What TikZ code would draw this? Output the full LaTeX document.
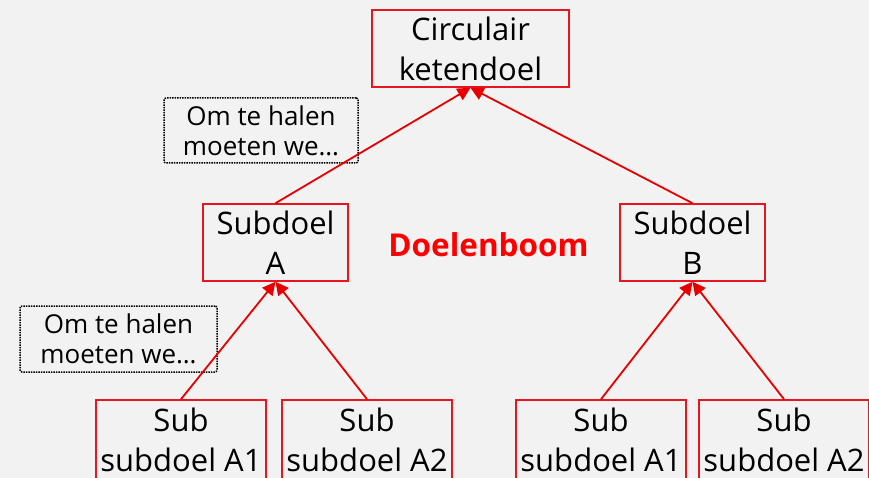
\documentclass[tikz,border=0pt]{standalone}
\usepackage{fontspec}
\setmainfont{Open Sans}
\usetikzlibrary{arrows.meta}
\definecolor{bg}{HTML}{F2F2F2}
\definecolor{boxred}{RGB}{232,20,30}
\definecolor{linered}{RGB}{230,0,0}
\tikzset{
  goal/.style={draw=boxred, line width=1.6pt, inner sep=0pt, align=center,
    font=\fontsize{31}{40}\selectfont, text=black},
  note/.style={draw=black, densely dotted, line width=1.5pt, rounded corners=2pt, inner sep=0pt,
    align=center, font=\fontsize{26}{30}\selectfont, minimum width=194pt, minimum height=65pt},
  link/.style={draw=linered, line width=1.8pt, -{Triangle[length=13pt,width=13pt]}}
}
\begin{document}
\begin{tikzpicture}[x=1pt,y=-1pt]
\fill[bg] (0,0) rectangle (869,478);
\useasboundingbox (0,0) rectangle (869,478);
\node[goal, minimum width=197pt, minimum height=77pt] (top) at (470.5,48.5) {Circulair\\ketendoel};
\node[goal, minimum width=145pt, minimum height=77pt] (A) at (275.5,242.5) {Subdoel\\A};
\node[goal, minimum width=145pt, minimum height=77pt] (B) at (692.5,242.5) {Subdoel\\B};
\node[goal, minimum width=170pt, minimum height=80pt] (A1) at (181,440) {Sub\\subdoel A1};
\node[goal, minimum width=170pt, minimum height=80pt] (A2) at (367,440) {Sub\\subdoel A2};
\node[goal, minimum width=170pt, minimum height=80pt] (B1) at (601,440) {Sub\\subdoel A1};
\node[goal, minimum width=170pt, minimum height=80pt] (B2) at (784,440) {Sub\\subdoel A2};
\node[note] (n1) at (261,130.5) {Om te halen\\moeten we\ldots};
\node[note, minimum width=197pt, minimum height=66pt] (n2) at (118.5,339) {Om te halen\\moeten we\ldots};
\node[text=red, font=\fontsize{31.5}{36}\selectfont\bfseries] (title) at (488.5,245) {Doelenboom};
\draw[link] (A.north) -- (top.south);
\draw[link] (B.north) -- (top.south);
\draw[link] (A1.north) -- (A.south);
\draw[link] (A2.north) -- (A.south);
\draw[link] (B1.north) -- (B.south);
\draw[link] (B2.north) -- (B.south);
\end{tikzpicture}
\end{document}
